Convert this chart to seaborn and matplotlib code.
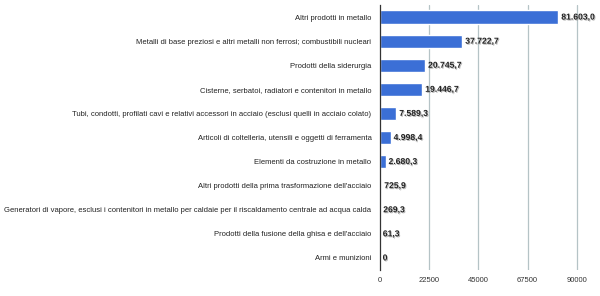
import seaborn as sns
import matplotlib.pyplot as plt
import matplotlib.patheffects as pe
import pandas as pd

categorie = [
    "Altri prodotti in metallo",
    "Metalli di base preziosi e altri metalli non ferrosi; combustibili nucleari",
    "Prodotti della siderurgia",
    "Cisterne, serbatoi, radiatori e contenitori in metallo",
    "Tubi, condotti, profilati cavi e relativi accessori in acciaio (esclusi quelli in acciaio colato)",
    "Articoli di coltelleria, utensili e oggetti di ferramenta",
    "Elementi da costruzione in metallo",
    "Altri prodotti della prima trasformazione dell'acciaio",
    "Generatori di vapore, esclusi i contenitori in metallo per caldaie per il riscaldamento centrale ad acqua calda",
    "Prodotti della fusione della ghisa e dell'acciaio",
    "Armi e munizioni",
]
valori = [81603.0, 37722.7, 20745.7, 19446.7, 7589.3, 4998.4, 2680.3, 725.9, 269.3, 61.3, 0.0]
tick_x = [0, 22500, 45000, 67500, 90000]

df = pd.DataFrame({"categoria": categorie, "valore": valori})

sns.set_style("white")
plt.rcParams["font.family"] = ["Liberation Sans", "DejaVu Sans"]

fig = plt.figure(figsize=(6, 2.96), dpi=100)
ax = fig.add_axes([0.633, 0.088, 0.355, 0.895])

sns.barplot(data=df, y="categoria", x="valore", orient="h", color="#3b6fd6",
            width=0.55, saturation=1, ax=ax)

ax.set_xlim(0, 97300)
ax.set_ylim(10.5, -0.5)
ax.set_xticks(tick_x)
ax.set_xticklabels([str(t) for t in tick_x], fontsize=5.5, color="#333333")
ax.tick_params(axis="y", labelsize=5.5, length=0, pad=6, labelcolor="#222222")
ax.tick_params(axis="x", length=0, pad=5)
ax.set_xlabel("")
ax.set_ylabel("")
for t in tick_x[1:]:
    ax.axvline(t, color="#b5c3c6", lw=0.9, zorder=0)
for s in ["top", "right", "bottom"]:
    ax.spines[s].set_visible(False)
ax.spines["left"].set_color("#333333")
ax.spines["left"].set_linewidth(0.9)


def fmt(v):
    if v == 0:
        return "0"
    s = f"{v:,.1f}"
    return s.replace(",", "X").replace(".", ",").replace("X", ".")


for i, v in enumerate(valori):
    ax.text(v + 1300, i, fmt(v), va="center", ha="left", fontsize=6.2,
            fontweight="bold", color="#222222",
            path_effects=[pe.withSimplePatchShadow(offset=(0.7, -0.7),
                                                   shadow_rgbFace="#888888", alpha=0.6)])

fig.savefig("out.png", dpi=100)
